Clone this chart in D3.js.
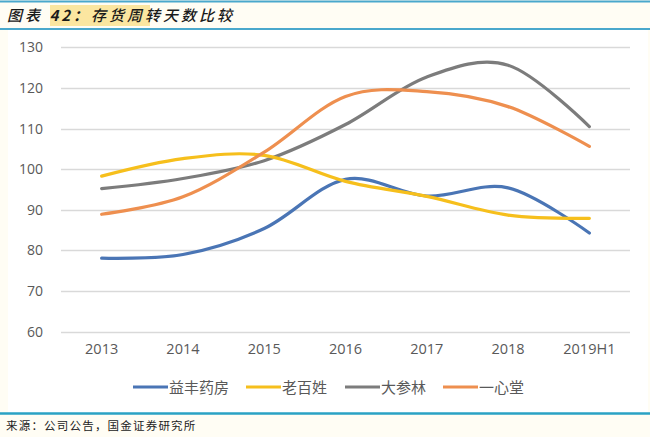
<!DOCTYPE html>
<html><head><meta charset="utf-8">
<script src="https://cdn.jsdelivr.net/npm/d3@7"></script>
<style>
body{margin:0;padding:0;background:#fffdf4;}
svg{display:block;}
</style></head>
<body>
<svg id="c" width="650" height="437"></svg>
<script>
const categories = ["2013","2014","2015","2016","2017","2018","2019H1"];
const seriesNames = ["益丰药房","老百姓","大参林","一心堂"];
const yifeng   = [78.1, 79.0, 85.4, 97.5, 93.4, 95.4, 84.3];
const laobaixing = [98.3, 102.6, 103.4, 97.0, 93.3, 88.7, 87.9];
const dashenlin = [95.2, 97.7, 102.1, 111.0, 122.7, 125.6, 110.5];
const yixintang = [88.9, 93.2, 104.2, 117.9, 119.1, 115.4, 105.6];
const yTicks = [60,70,80,90,100,110,120,130];
const colors = ["#4a75b5","#f6bf1c","#7c7c7c","#ee8f4f"];
const titleParts = [["图表 ","normal"],["42：","bold"],["存货周转天数比较","normal"]];
const source = "来源：公司公告，国金证券研究所";

const svg = d3.select("#c");
const W = 650, H = 437;
svg.append("rect").attr("x",0).attr("y",0).attr("width",W).attr("height",H).attr("fill","#fffdf4");
svg.append("rect").attr("x",8).attr("y",30).attr("width",W-10).attr("height",383).attr("fill","#ffffff");
svg.append("line").attr("x1",0).attr("x2",W).attr("y1",1.5).attr("y2",1.5).attr("stroke","#4aa8cc").attr("stroke-width",2);
svg.append("rect").attr("x",50).attr("y",5).attr("width",100).attr("height",21).attr("fill","#fbe6a0");
const tt = svg.append("text").attr("x",7).attr("y",21)
  .attr("font-family","'Noto Sans CJK SC'").attr("font-size",15)
  .attr("font-style","italic").attr("letter-spacing",3).attr("fill","#1a1a1a");
titleParts.forEach(p=>tt.append("tspan").text(p[0]).attr("font-weight",p[1]==="bold"?"bold":"500"));
svg.append("line").attr("x1",0).attr("x2",W).attr("y1",29).attr("y2",29).attr("stroke","#4aa8cc").attr("stroke-width",2);

svg.append("line").attr("x1",0).attr("x2",W).attr("y1",413.5).attr("y2",413.5).attr("stroke","#2aa2c4").attr("stroke-width",2.5);
svg.append("text").attr("x",6).attr("y",430).text(source)
  .attr("font-family","'Noto Sans CJK SC'").attr("font-size",11.5).attr("letter-spacing",1.2).attr("fill","#222");

const x = d3.scaleBand().domain(categories).range([61,630]);
const y = d3.scaleLinear().domain([60,130]).range([331.7,47.3]);

const g = svg.append("g");
g.selectAll("line.grid").data(yTicks).join("line").attr("class","grid")
  .attr("x1",61).attr("x2",630).attr("y1",d=>Math.round(y(d))+0.5).attr("y2",d=>Math.round(y(d))+0.5)
  .attr("stroke","#d9d9d9").attr("stroke-width",1.3);

const yAxis = d3.axisLeft(y).tickValues(yTicks).tickSize(0).tickPadding(0);
const ya = svg.append("g").attr("transform","translate(43,0)").call(yAxis);
ya.select(".domain").remove();
ya.selectAll("text").attr("font-family","'Open Sans', 'Noto Sans'").attr("font-size",14).attr("fill","#595959");

const xAxis = d3.axisBottom(x).tickSize(0).tickPadding(0);
const xa = svg.append("g").attr("transform","translate(0,344)").call(xAxis);
xa.select(".domain").remove();
xa.selectAll("text").attr("font-family","'Open Sans', 'Noto Sans'").attr("font-size",14.5).attr("fill","#595959");

const data = [yifeng, laobaixing, dashenlin, yixintang];
const line = d3.line().x((d,i)=>x(categories[i])+x.bandwidth()/2).y(d=>y(d)).curve(d3.curveCatmullRom.alpha(0));
const order = [0,2,1,3];
order.forEach(k=>{
  g.append("path").attr("d",line(data[k])).attr("fill","none").attr("stroke",colors[k]).attr("stroke-width",3.2).attr("stroke-linecap","round");
});

const legendX = [133, 246, 345, 443];
const lg = svg.append("g");
seriesNames.forEach((n,i)=>{
  lg.append("line").attr("x1",legendX[i]).attr("x2",legendX[i]+35).attr("y1",387).attr("y2",387)
    .attr("stroke",colors[i]).attr("stroke-width",3.2);
  lg.append("text").attr("x",legendX[i]+36).attr("y",392.5).text(n)
    .attr("font-family","'Noto Sans CJK SC'").attr("font-size",15).attr("fill","#595959");
});
</script>
</body></html>
